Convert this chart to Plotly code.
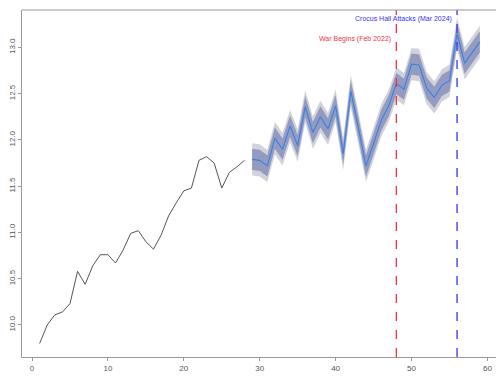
import plotly.graph_objects as go

# Historical series (t = 1..28)
hist_t = list(range(1, 29))
hist_y = [9.80, 10.00, 10.11, 10.14, 10.23, 10.58, 10.44, 10.64, 10.76, 10.76,
          10.67, 10.81, 10.99, 11.02, 10.90, 10.82, 10.97, 11.18, 11.32, 11.45,
          11.48, 11.78, 11.82, 11.75, 11.48, 11.65, 11.71, 11.78]

# Forecast mean (t = 29..59)
fc_t = list(range(29, 60))
fc_mean = [11.79, 11.78, 11.72, 12.02, 11.90, 12.15, 11.94, 12.36, 12.08, 12.25,
           12.12, 12.37, 11.85, 12.53, 12.13, 11.72, 11.96, 12.21, 12.37, 12.61,
           12.55, 12.82, 12.81, 12.56, 12.46, 12.59, 12.64, 13.15, 12.83, 12.94,
           13.06]
# prediction-interval half widths
pi80_half = 0.115
pi95_half = 0.175

# Event markers
event_t = [48, 56]
event_labels = ["War Begins (Feb 2022)", "Crocus Hall Attacks (Mar 2024)"]
event_label_y = [13.09, 13.31]
event_colors = ["#EE3344", "#3333EE"]

x_ticks = [0, 10, 20, 30, 40, 50, 60]
y_ticks = [10.0, 10.5, 11.0, 11.5, 12.0, 12.5, 13.0]

lo95 = [m - pi95_half for m in fc_mean]
hi95 = [m + pi95_half for m in fc_mean]
lo80 = [m - pi80_half for m in fc_mean]
hi80 = [m + pi80_half for m in fc_mean]

fig = go.Figure()
fig.add_trace(go.Scatter(x=fc_t, y=hi95, mode="lines", line=dict(width=0),
                         hoverinfo="skip", showlegend=False))
fig.add_trace(go.Scatter(x=fc_t, y=lo95, mode="lines", line=dict(width=0),
                         fill="tonexty", fillcolor="#D2D2DA",
                         hoverinfo="skip", showlegend=False))
fig.add_trace(go.Scatter(x=fc_t, y=hi80, mode="lines", line=dict(width=0),
                         hoverinfo="skip", showlegend=False))
fig.add_trace(go.Scatter(x=fc_t, y=lo80, mode="lines", line=dict(width=0),
                         fill="tonexty", fillcolor="#949BC0",
                         hoverinfo="skip", showlegend=False))
fig.add_trace(go.Scatter(x=hist_t, y=hist_y, mode="lines",
                         line=dict(color="#555555", width=1), showlegend=False))
fig.add_trace(go.Scatter(x=fc_t, y=fc_mean, mode="lines",
                         line=dict(color="#3A80E6", width=1.1), showlegend=False))

for t, lab, ly, col in zip(event_t, event_labels, event_label_y, event_colors):
    fig.add_shape(type="line", x0=t, x1=t, y0=0, y1=1, xref="x", yref="paper",
                  line=dict(color=col, width=1.3, dash="dash"))
    fig.add_annotation(x=t, y=ly, text=lab, showarrow=False, xanchor="right",
                       xshift=-3, font=dict(color=col, size=7,
                                            family="Liberation Sans, Arial"))

# top border of the box
fig.add_shape(type="line", x0=0, x1=1, y0=1, y1=1, xref="paper", yref="paper",
              line=dict(color="#999999", width=1))

axis_font = dict(size=8, color="#555555", family="Liberation Sans, Arial")
fig.update_xaxes(range=[-1.32, 61.13], tickvals=x_ticks, ticks="outside",
                 ticklen=3, tickcolor="#999999", showline=True,
                 linecolor="#999999", linewidth=1, showgrid=False,
                 zeroline=False, tickfont=axis_font)
fig.update_yaxes(range=[9.654, 13.405], tickvals=y_ticks,
                 ticktext=[f"{v:.1f}" for v in y_ticks], ticks="outside",
                 ticklen=3, tickcolor="#999999", showline=True,
                 linecolor="#999999", linewidth=1, showgrid=False,
                 zeroline=False, tickangle=-90, tickfont=axis_font)
fig.update_layout(width=496, height=376, margin=dict(l=22, r=0, t=10, b=19),
                  plot_bgcolor="white", paper_bgcolor="white")

fig.write_html("out.html", config={"displayModeBar": False},
               post_script="document.body.style.margin='0';document.body.style.overflow='hidden';")
